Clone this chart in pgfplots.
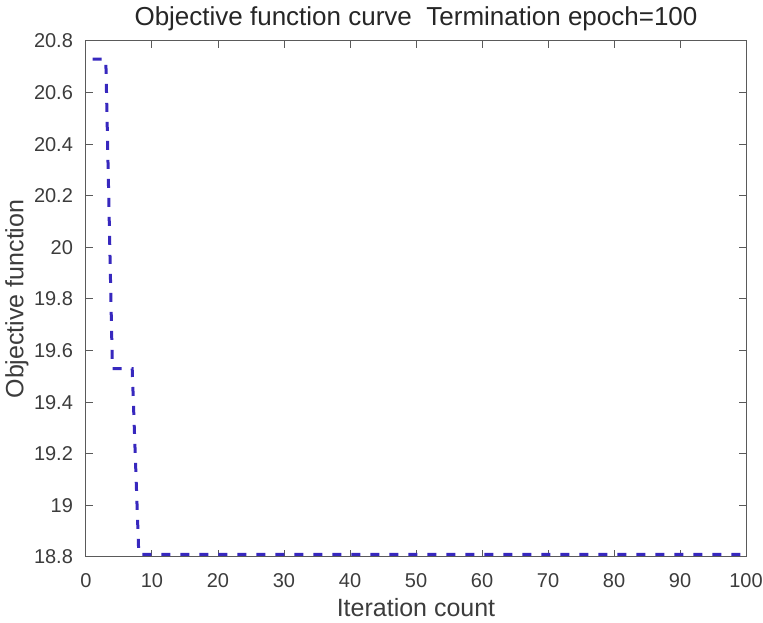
\documentclass[border=0pt]{standalone}
\usepackage{pgfplots}
\pgfplotsset{compat=1.18}
\usepackage{fontspec}
\setmainfont{Liberation Sans}
\definecolor{axisgray}{RGB}{90,90,90}
\definecolor{labelgray}{RGB}{60,60,60}
\definecolor{curveblue}{RGB}{55,40,190}
\begin{document}
\begin{tikzpicture}
\begin{axis}[
  scale only axis,
  width=330pt, height=258pt,
  xmin=0, xmax=100, ymin=18.8, ymax=20.8,
  xtick={0,10,...,100},
  ytick={18.8,19,19.2,19.4,19.6,19.8,20,20.2,20.4,20.6,20.8},
  yticklabels={18.8,19,19.2,19.4,19.6,19.8,20,20.2,20.4,20.6,20.8},
  tick align=inside,
  major tick length=3.3pt,
  axis line style={axisgray, line width=0.5pt},
  every tick/.style={axisgray, line width=0.5pt},
  tick label style={font=\fontsize{10}{12}\selectfont, text=labelgray},
  /pgf/number format/assume math mode=true,
  xticklabel style={anchor=base, yshift=-15.5pt},
  yticklabel style={anchor=east, xshift=-3pt},
  xlabel={Iteration count},
  ylabel={Objective function},
  label style={font=\fontsize{12.5}{14}\selectfont, text=labelgray},
  xlabel style={at={(axis description cs:0.5,0)}, anchor=base, yshift=-30pt},
  ylabel style={at={(axis description cs:-0.1045,0.5)}, anchor=center},
  title={Objective function curve\ \ Termination epoch=100},
  title style={font=\fontsize{13}{15}\selectfont, text=black!85,
    at={(axis description cs:0.5,1)}, anchor=base, yshift=1.8pt},
]
\addplot[curveblue, line width=1.5pt, dash pattern=on 4.5pt off 5pt] coordinates {
  (1,20.73) (2,20.73) (3,20.73) (4,19.53) (5,19.53) (6,19.53) (7,19.53)
  (8,18.81) (20,18.81) (40,18.81) (60,18.81) (80,18.81) (100,18.81)
};
\end{axis}
\pgfresetboundingbox
\path (current axis.south west)+(-43pt,-33pt) coordinate (bbsw);
\path (current axis.north east)+(8.5pt,20.5pt) coordinate (bbne);
\path (bbsw) rectangle (bbne);
\end{tikzpicture}
\end{document}
